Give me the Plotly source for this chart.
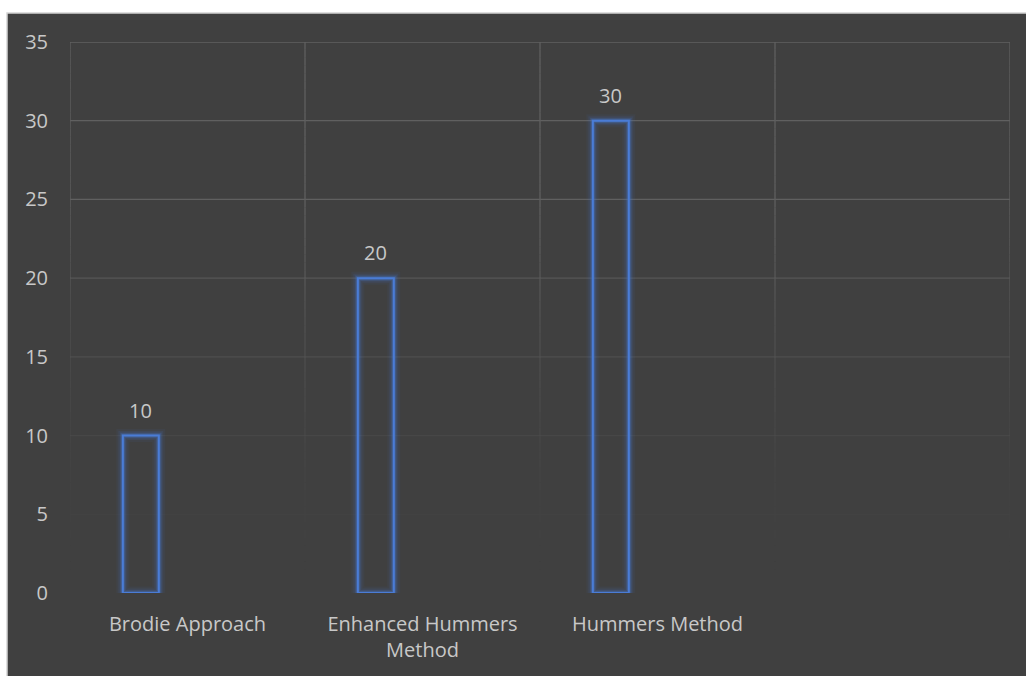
import plotly.graph_objects as go

# Chart data
categories = ["Brodie Approach", "Enhanced Hummers<br>Method", "Hummers Method"]
values = [10, 20, 30]
n_slots = 4  # category slots on the axis (last one left empty)
y_ticks = [0, 5, 10, 15, 20, 25, 30, 35]

# Styling
BG = "#404040"
TEXT = "#c8c8c8"
BAR_BLUE = "68,114,196"
FONT = "Open Sans"
FSIZE = 20
BAR_W = 0.153
BAR_OFF = -0.275

W, H = 1026, 676
ML, MR, MT, MB = 70, 16, 42, 83
plot_w = W - ML - MR
plot_h = H - MT - MB

xpos = list(range(len(categories)))

fig = go.Figure()

# soft glow layers, then the crisp outline
for lw, alpha in [(13, 0.07), (9, 0.12), (6, 0.2), (4, 0.35)]:
    fig.add_trace(go.Bar(
        x=xpos, y=values, width=BAR_W, offset=BAR_OFF,
        marker=dict(color="rgba(0,0,0,0)", line=dict(color=f"rgba({BAR_BLUE},{alpha})", width=lw)),
        hoverinfo="skip", showlegend=False,
    ))
fig.add_trace(go.Bar(
    x=xpos, y=values, width=BAR_W, offset=BAR_OFF,
    marker=dict(color="rgba(0,0,0,0)", line=dict(color="rgb(74,124,214)", width=2)),
    showlegend=False,
))

shapes = []
# chart background panel with thin light border on the page
px_to_xpaper = lambda px: (px - ML) / plot_w
px_to_ypaper = lambda py: (H - MB - py) / plot_h
shapes.append(dict(
    type="rect", xref="paper", yref="paper", layer="below",
    x0=px_to_xpaper(7), x1=px_to_xpaper(W + 5),
    y0=px_to_ypaper(H + 5), y1=px_to_ypaper(13),
    fillcolor=BG, line=dict(color="#d4d4d4", width=1.5),
))

ymax = y_ticks[-1]


def grid_alpha(v):
    t = min(1.0, v / (ymax * 0.72))
    return t ** 1.6


GRID = "96,96,96"
# horizontal gridlines, fading towards the baseline
for v in y_ticks:
    a = grid_alpha(v)
    if a <= 0.01:
        continue
    shapes.append(dict(
        type="line", xref="x", yref="y", layer="below",
        x0=-0.5, x1=n_slots - 0.5, y0=v, y1=v,
        line=dict(color=f"rgba({GRID},{a:.3f})", width=1.3),
    ))
# vertical gridlines at slot boundaries, drawn in short fading segments
seg = 0.5
for k in range(n_slots + 1):
    xb = k - 0.5
    y = 0.0
    while y < ymax:
        a = grid_alpha(y + seg / 2)
        if a > 0.01:
            shapes.append(dict(
                type="line", xref="x", yref="y", layer="below",
                x0=xb, x1=xb, y0=y, y1=min(ymax, y + seg),
                line=dict(color=f"rgba({GRID},{a:.3f})", width=1.3),
            ))
        y += seg

# value labels above each bar
annotations = []
for xp, v in zip(xpos, values):
    annotations.append(dict(
        x=xp + BAR_OFF + BAR_W / 2, y=v, xref="x", yref="y",
        text=str(v), showarrow=False, yanchor="bottom", yshift=10,
        font=dict(family=FONT, size=FSIZE, color=TEXT),
    ))

fig.update_layout(
    width=W, height=H,
    margin=dict(l=ML, r=MR, t=MT, b=MB, pad=0),
    paper_bgcolor="white",
    plot_bgcolor="rgba(0,0,0,0)",
    barmode="overlay",
    font=dict(family=FONT, size=FSIZE, color=TEXT),
    shapes=shapes,
    annotations=annotations,
    xaxis=dict(
        range=[-0.5, n_slots - 0.5],
        tickmode="array", tickvals=xpos, ticktext=categories,
        showgrid=False, zeroline=False, showline=False, ticks="",
        tickfont=dict(family=FONT, size=FSIZE, color=TEXT),
        ticklabelstandoff=17,
    ),
    yaxis=dict(
        range=[0, ymax],
        tickmode="array", tickvals=y_ticks,
        showgrid=False, zeroline=False, showline=False, ticks="",
        tickfont=dict(family=FONT, size=FSIZE, color=TEXT),
        ticklabelstandoff=21,
    ),
)

fig.write_html("out.html")
